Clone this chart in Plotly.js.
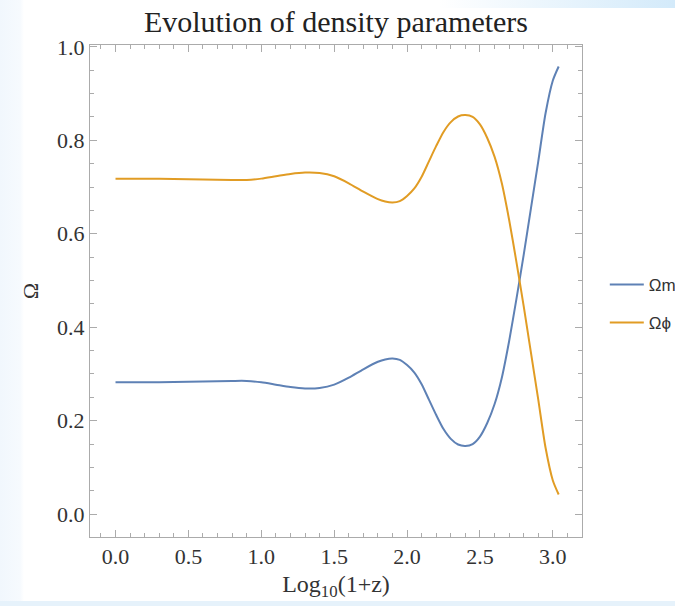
<!DOCTYPE html>
<html><head><meta charset="utf-8">
<script src="https://cdn.plot.ly/plotly-3.0.1.min.js"></script>
<style>
html,body{margin:0;padding:0;}
body{width:675px;height:606px;overflow:hidden;
background:
 linear-gradient(to right, rgba(255,255,255,0) 65%, #d3eafa 100%) top/100% 8px no-repeat,
 linear-gradient(#e6f2fb,#e6f2fb) bottom/100% 5px no-repeat,
 linear-gradient(to right, #f1f7fd 0px, #f6fafe 20px, #ffffff 24px) left/100% 100% no-repeat,
 #ffffff;}
#chart{width:675px;height:606px;}
</style>
</head><body><div id="chart"></div>
<script>
const logZ = [0, 0.2, 0.4, 0.6, 0.8, 0.9, 1.0, 1.1, 1.2, 1.3, 1.4, 1.5, 1.6, 1.7, 1.8, 1.85, 1.9, 1.95, 2.0, 2.05, 2.1, 2.15, 2.2, 2.25, 2.3, 2.35, 2.4, 2.45, 2.5, 2.55, 2.6, 2.65, 2.7, 2.75, 2.8, 2.85, 2.9, 2.95, 3.0, 3.04];
const omegaM = [0.282, 0.282, 0.283, 0.284, 0.285, 0.285, 0.282, 0.277, 0.272, 0.269, 0.270, 0.277, 0.292, 0.310, 0.326, 0.331, 0.333, 0.330, 0.319, 0.303, 0.278, 0.245, 0.212, 0.182, 0.161, 0.149, 0.146, 0.150, 0.166, 0.195, 0.235, 0.292, 0.370, 0.460, 0.555, 0.655, 0.755, 0.858, 0.928, 0.958];
const omegaPhi = [0.718, 0.718, 0.717, 0.716, 0.715, 0.715, 0.718, 0.723, 0.728, 0.731, 0.730, 0.723, 0.708, 0.690, 0.674, 0.669, 0.667, 0.670, 0.681, 0.697, 0.722, 0.755, 0.788, 0.818, 0.839, 0.851, 0.854, 0.850, 0.834, 0.805, 0.765, 0.708, 0.630, 0.540, 0.445, 0.345, 0.245, 0.142, 0.072, 0.042];
const seriesNames = ['Ωm', 'Ωϕ'];
const titleText = 'Evolution of density parameters';
const xTitle = 'Log<sub>10</sub>(1+z)';
const yTitle = 'Ω';

const frameColor = '#ababab';
const serif = 'Liberation Serif, Times New Roman, serif';

const traces = [
  {x: logZ, y: omegaM, name: seriesNames[0], type: 'scatter', mode: 'lines',
   line: {color: '#5e81b5', width: 2, shape: 'spline', smoothing: 0.7}, legend: 'legend'},
  {x: logZ, y: omegaPhi, name: seriesNames[1], type: 'scatter', mode: 'lines',
   line: {color: '#e19c24', width: 2, shape: 'spline', smoothing: 0.7}, legend: 'legend2'}
];

const axisCommon = {
  showline: true, mirror: 'ticks', linecolor: frameColor, linewidth: 1,
  ticks: 'inside', ticklen: 7, tickwidth: 1, tickcolor: frameColor,
  showgrid: false, zeroline: false,
  tickfont: {family: serif, size: 22, color: '#333'},
  tickformat: '.1f'
};

const legendCommon = {
  xref: 'container', yref: 'container', x: 0.896, xanchor: 'left', yanchor: 'middle',
  font: {family: 'Liberation Sans, Arial, sans-serif', size: 17, color: '#333'},
  bgcolor: 'rgba(0,0,0,0)', borderwidth: 0, itemwidth: 34
};

const layout = {
  width: 675, height: 606,
  paper_bgcolor: 'rgba(0,0,0,0)', plot_bgcolor: '#ffffff',
  margin: {l: 90, r: 93, t: 45, b: 69, autoexpand: false},
  title: {text: titleText, font: {family: serif, size: 30, color: '#222'},
          x: 0.5, xref: 'paper', y: 0.965, yref: 'container', yanchor: 'middle'},
  xaxis: Object.assign({}, axisCommon, {
    range: [-0.175, 3.2], tickmode: 'linear', tick0: 0, dtick: 0.5,
    minor: {tickmode: 'linear', tick0: 0, dtick: 0.1, ticks: 'inside', ticklen: 4, tickcolor: frameColor},
    title: {text: xTitle, font: {family: serif, size: 24, color: '#333'}, standoff: 6}
  }),
  yaxis: Object.assign({}, axisCommon, {
    range: [-0.049, 1.004], tickmode: 'linear', tick0: 0, dtick: 0.2,
    minor: {tickmode: 'linear', tick0: 0, dtick: 0.05, ticks: 'inside', ticklen: 4, tickcolor: frameColor},
    title: {text: yTitle, font: {family: serif, size: 22, color: '#333'}, standoff: 12}
  }),
  legend: Object.assign({}, legendCommon, {y: 1 - 285/606}),
  legend2: Object.assign({}, legendCommon, {y: 1 - 323/606}),
  showlegend: true
};

Plotly.newPlot('chart', traces, layout, {staticPlot: true, displayModeBar: false});
</script>
</body></html>
